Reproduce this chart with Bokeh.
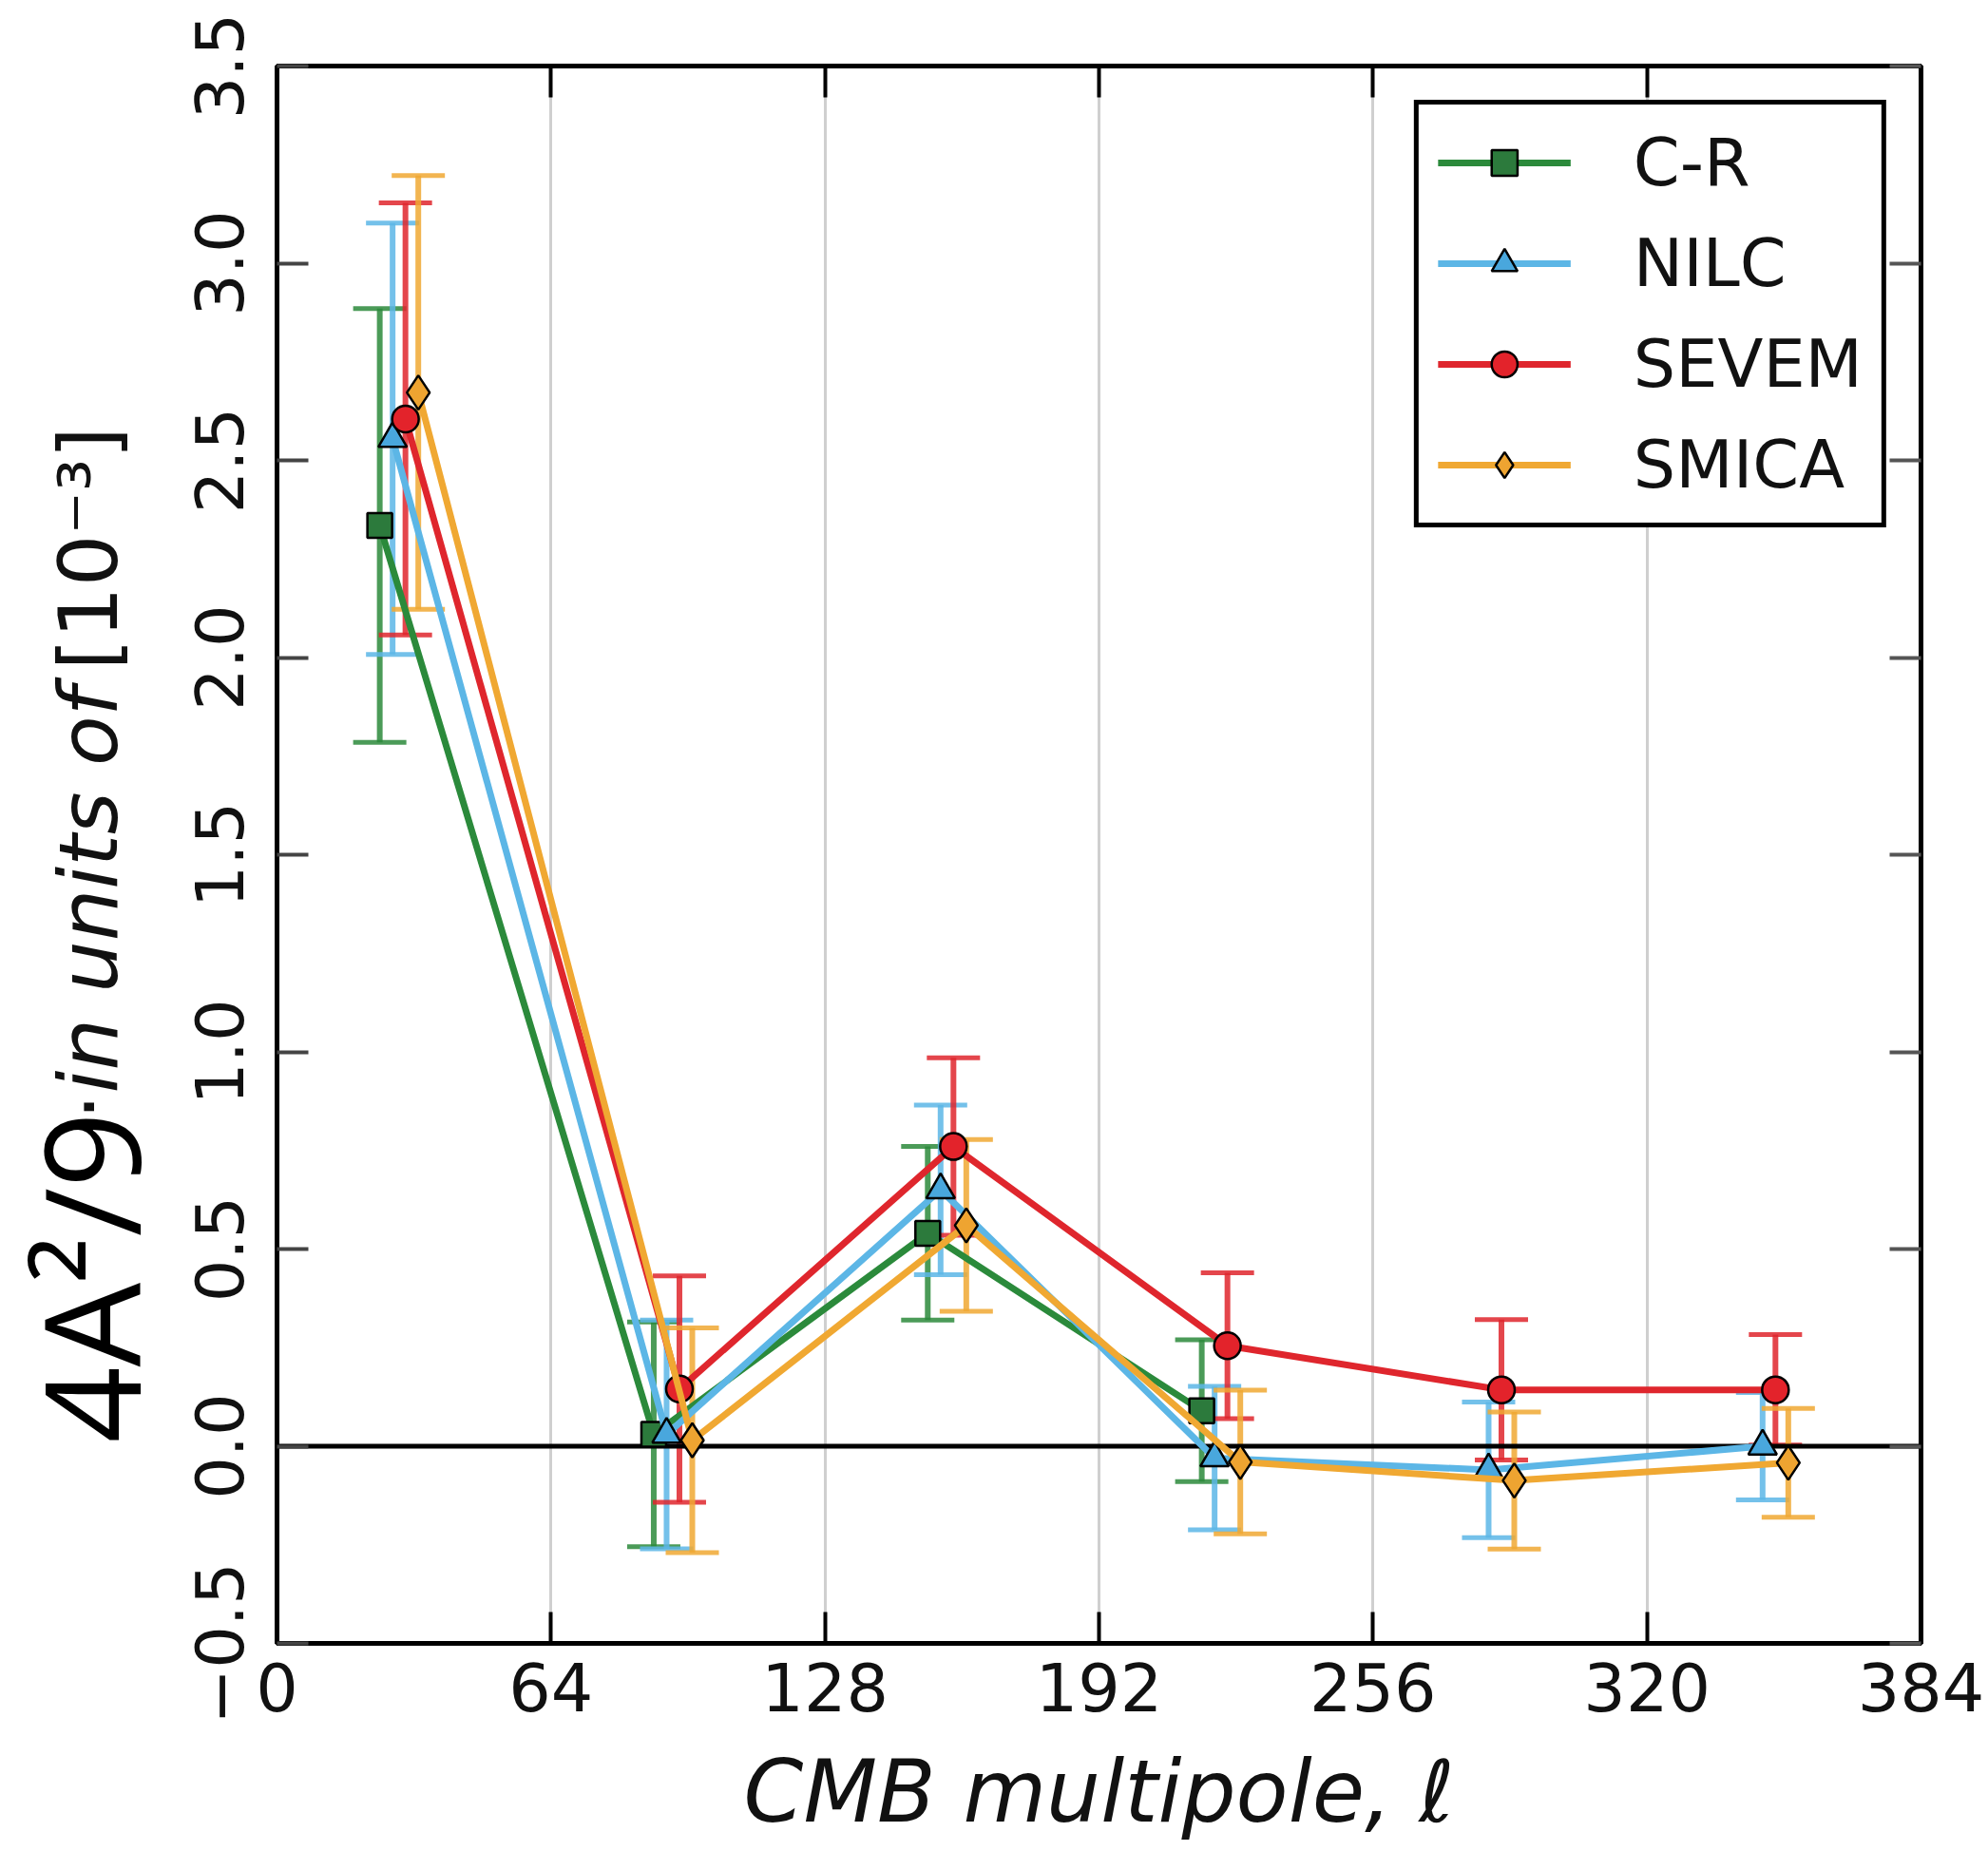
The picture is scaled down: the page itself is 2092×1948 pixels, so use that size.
import numpy as np
from math import pi

from bokeh.plotting import figure
from bokeh.layouts import row
from bokeh.models import (ColumnDataSource, Whisker, TeeHead, Span, Legend,
                          LegendItem, FixedTicker, LinearAxis, Range1d)
from bokeh.core.properties import value
from bokeh.embed import file_html
from bokeh.resources import INLINE

# Multipole bin centres, each component-separated map shifted a little within its bin
ell_cr = [24, 88, 152, 216]
ell_nilc = [27, 91, 155, 219, 283, 347]
ell_sevem = [30, 94, 158, 222, 286, 350]
ell_smica = [33, 97, 161, 225, 289, 353]

# Dipole modulation power 4A^2/9 in units of 1e-3, with 1-sigma errors
amp_cr = [2.335, 0.03, 0.54, 0.09]
err_cr = [0.55, 0.285, 0.22, 0.18]
amp_nilc = [2.555, 0.03, 0.65, -0.03, -0.06, 0.0]
err_nilc = [0.547, 0.29, 0.215, 0.182, 0.172, 0.136]
amp_sevem = [2.605, 0.145, 0.76, 0.255, 0.143, 0.143]
err_sevem = [0.548, 0.287, 0.225, 0.185, 0.178, 0.14]
amp_smica = [2.672, 0.015, 0.56, -0.04, -0.087, -0.042]
err_smica = [0.55, 0.285, 0.218, 0.182, 0.174, 0.138]

series_names = ["C-R", "NILC", "SEVEM", "SMICA"]

x_ticks = [0, 64, 128, 192, 256, 320, 384]
y_ticks = [-0.5, 0.0, 0.5, 1.0, 1.5, 2.0, 2.5, 3.0, 3.5]
y_tick_labels = ["\u22120.5", "0.0", "0.5", "1.0", "1.5", "2.0", "2.5", "3.0", "3.5"]

W, H = 2092, 1948
TITLE_W = 170                      # strip holding the vertical y-axis title
LEFT, RIGHT, TOP, BOTTOM = 121, 71, 69, 219

p = figure(width=W - TITLE_W, height=H, output_backend="svg", toolbar_location=None,
           x_range=Range1d(0, 384), y_range=Range1d(-0.5, 3.5),
           min_border_left=LEFT, min_border_right=RIGHT,
           min_border_top=TOP, min_border_bottom=BOTTOM,
           background_fill_color="white", border_fill_color="white")
p.frame_align = False
p.outline_line_color = "black"
p.outline_line_width = 5

TICK_FONT = "DejaVu Sans"
TICK_SIZE = "70px"

# bottom axis
p.xaxis.ticker = FixedTicker(ticks=x_ticks)
p.xaxis.major_tick_in = 33
p.xaxis.major_tick_out = 0
p.xaxis.major_tick_line_width = 4
p.xaxis.major_tick_line_color = "black"
p.xaxis.minor_tick_line_color = None
p.xaxis.axis_line_color = "black"
p.xaxis.axis_line_width = 5
p.xaxis.major_label_text_font = TICK_FONT
p.xaxis.major_label_text_font_size = TICK_SIZE
p.xaxis.major_label_text_color = "#111111"
p.xaxis.major_label_standoff = 20
p.xaxis.axis_label = "CMB multipole, \u2113"
p.xaxis.axis_label_text_font = TICK_FONT
p.xaxis.axis_label_text_font_style = "italic"
p.xaxis.axis_label_text_font_size = "90px"
p.xaxis.axis_label_text_color = "#111111"
p.xaxis.axis_label_standoff = 29

# left axis with vertical tick labels
p.yaxis.ticker = FixedTicker(ticks=y_ticks)
p.yaxis.major_label_overrides = {t: s for t, s in zip(y_ticks, y_tick_labels)}
p.yaxis.major_label_orientation = "vertical"
p.yaxis.major_tick_in = 33
p.yaxis.major_tick_out = 0
p.yaxis.major_tick_line_width = 4
p.yaxis.major_tick_line_color = "#444444"
p.yaxis.minor_tick_line_color = None
p.yaxis.axis_line_color = "black"
p.yaxis.axis_line_width = 5
p.yaxis.major_label_text_font = TICK_FONT
p.yaxis.major_label_text_font_size = TICK_SIZE
p.yaxis.major_label_text_color = "#111111"
p.yaxis.major_label_standoff = 36

# mirrored ticks on top and right, without labels
top_axis = LinearAxis(ticker=FixedTicker(ticks=x_ticks), major_tick_in=33, major_tick_out=0,
                      major_tick_line_width=4, major_tick_line_color="black",
                      minor_tick_line_color=None, axis_line_color="black", axis_line_width=5,
                      major_label_text_color=None, major_label_text_font_size="10px",
                      major_label_standoff=0)
right_axis = LinearAxis(ticker=FixedTicker(ticks=y_ticks), major_tick_in=33, major_tick_out=0,
                        major_tick_line_width=4, major_tick_line_color="#555555",
                        minor_tick_line_color=None, axis_line_color="black", axis_line_width=5,
                        major_label_text_color=None, major_label_text_font_size="10px",
                        major_label_standoff=0)
p.add_layout(top_axis, "above")
p.add_layout(right_axis, "right")

# vertical grid only
p.xgrid.ticker = FixedTicker(ticks=x_ticks)
p.xgrid.grid_line_color = "#cfcfcf"
p.xgrid.grid_line_width = 3
p.ygrid.grid_line_color = None

styles = {
    "C-R":   dict(line="#2b8a3b", fill="#2c7a3c", marker="square", size=26),
    "NILC":  dict(line="#5cb6e6", fill="#49a7dd", marker="triangle", size=30),
    "SEVEM": dict(line="#df262d", fill="#e3232b", marker="circle", size=28),
    "SMICA": dict(line="#f0a832", fill="#eea431", marker="diamond", size=36),
}
data = {
    "C-R": (ell_cr, amp_cr, err_cr),
    "NILC": (ell_nilc, amp_nilc, err_nilc),
    "SEVEM": (ell_sevem, amp_sevem, err_sevem),
    "SMICA": (ell_smica, amp_smica, err_smica),
}

legend_items = []
for name in series_names:
    ell, amp, err = data[name]
    st = styles[name]
    amp_a = np.array(amp)
    err_a = np.array(err)
    src = ColumnDataSource(dict(x=ell, y=amp, upper=amp_a + err_a, lower=amp_a - err_a))
    whisk = Whisker(source=src, base="x", upper="upper", lower="lower", dimension="height",
                    line_color=st["line"], line_width=6, line_alpha=0.85,
                    upper_head=TeeHead(size=56, line_color=st["line"], line_width=5, line_alpha=0.85),
                    lower_head=TeeHead(size=56, line_color=st["line"], line_width=5, line_alpha=0.85))
    p.add_layout(whisk)
    ln = p.line("x", "y", source=src, line_color=st["line"], line_width=7)
    sc = p.scatter("x", "y", source=src, marker=st["marker"], size=st["size"],
                   fill_color=st["fill"], line_color="black", line_width=2.5)
    legend_items.append(LegendItem(label=name, renderers=[ln, sc]))

# zero reference line
p.add_layout(Span(location=0, dimension="width", line_color="black", line_width=5,
                  level="underlay"))

legend = Legend(items=legend_items, location="top_right", margin=36,
                border_line_color="black", border_line_width=5, border_line_alpha=1.0,
                background_fill_color="white", background_fill_alpha=1.0,
                label_text_font=TICK_FONT, label_text_font_size="70px",
                label_text_color="#111111",
                glyph_width=140, glyph_height=68, label_standoff=66,
                padding=20, spacing=24)
p.add_layout(legend)

# Narrow strip on the left carrying the y-axis title; its ranges are in pixels.
# Each piece is anchored on the middle of its line box.
t = figure(width=TITLE_W, height=H, output_backend="svg", toolbar_location=None,
           x_range=Range1d(0, TITLE_W), y_range=Range1d(0, H),
           x_axis_type=None, y_axis_type=None, min_border=0,
           background_fill_color="white", border_fill_color="white")
t.frame_align = False
t.outline_line_color = None

t.text(x=[93], y=[430], text=["4A\u00b2/9"], angle=pi / 2,
       text_font=value("Open Sans"), text_font_size="140px", text_color="black",
       text_align="left", text_baseline="middle")
t.text(x=[92], y=[770], text=["\u00b7"], angle=pi / 2,
       text_font=value("DejaVu Sans"), text_font_size="86px", text_color="#111111",
       text_align="left", text_baseline="middle")
t.text(x=[92], y=[798], text=["in units of"], angle=pi / 2,
       text_font=value("DejaVu Sans"), text_font_style="italic", text_font_size="86px",
       text_color="#111111", text_align="left", text_baseline="middle")
t.text(x=[92], y=[1243], text=["[10\u207b\u00b3]"], angle=pi / 2,
       text_font=value("DejaVu Sans"), text_font_size="86px", text_color="#111111",
       text_align="left", text_baseline="middle")

layout = row(t, p, spacing=0)
open("out.html", "w").write(file_html(layout, INLINE))
